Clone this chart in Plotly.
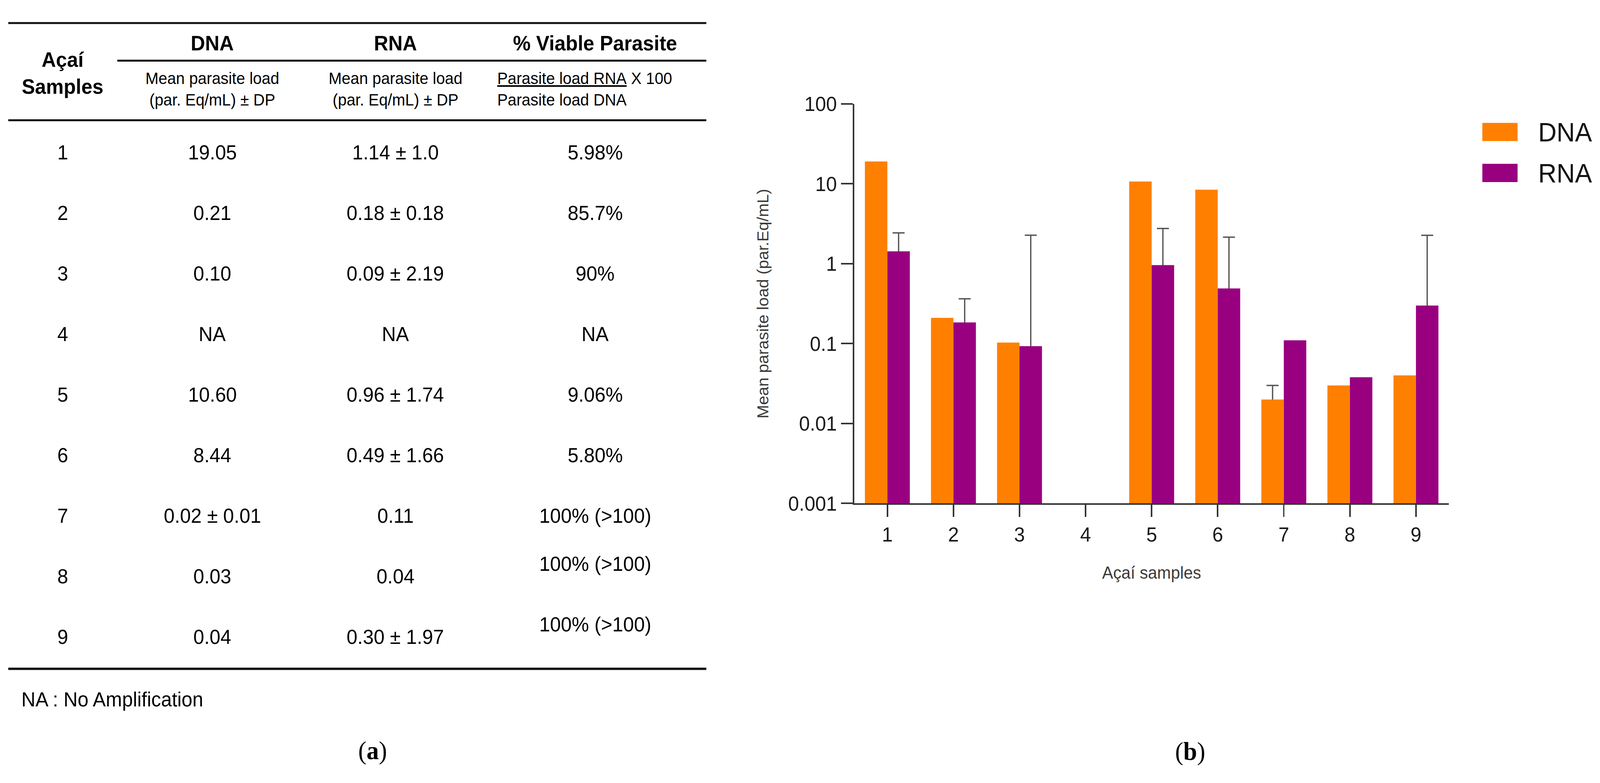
import plotly.graph_objects as go

W, H = 4270, 2004

# ---------------- data ----------------
samples = [1, 2, 3, 4, 5, 6, 7, 8, 9]
sample_labels = ["1", "2", "3", "4", "5", "6", "7", "8", "9"]

# chart values; sample 4 = no amplification
dna_load = [19.05, 0.21, 0.103, None, 10.7, 8.44, 0.020, 0.030, 0.040]
dna_sd = [None, None, None, None, None, None, 0.01, None, None]
rna_load = [1.43, 0.184, 0.093, None, 0.96, 0.49, 0.11, 0.038, 0.30]
rna_sd = [1.0, 0.18, 2.18, None, 1.8, 1.66, None, None, 1.97]

y_tickvals = [0.001, 0.01, 0.1, 1, 10, 100]
y_ticktext = ["0.001", "0.01", "0.1", "1", "10", "100"]

# table values (panel a)
table_samples = ["1", "2", "3", "4", "5", "6", "7", "8", "9"]
table_dna = ["19.05", "0.21", "0.10", "NA", "10.60", "8.44", "0.02 ± 0.01", "0.03", "0.04"]
table_rna = ["1.14 ± 1.0", "0.18 ± 0.18", "0.09 ± 2.19", "NA", "0.96 ± 1.74",
             "0.49 ± 1.66", "0.11", "0.04", "0.30 ± 1.97"]
table_viable = ["5.98%", "85.7%", "90%", "NA", "9.06%", "5.80%",
                "100% (>100)", "100% (>100)", "100% (>100)"]

ORANGE = "#FF8000"
PURPLE = "#990080"
SANS = "Liberation Sans, Arial, sans-serif"
SERIF = "Liberation Serif, Times New Roman, serif"


def px(x):
    return x / W


def py(y):
    return 1 - y / H


fig = go.Figure()

# error bars on transparent bars (drawn first, then covered by the real bars);
# the lower arm reaches zero (off the log scale) so no bottom cap is drawn
for load, sd, grp in [(dna_load, dna_sd, "dna"), (rna_load, rna_sd, "rna")]:
    idx = [i for i in range(len(samples)) if sd[i] is not None and load[i] is not None]
    fig.add_trace(go.Bar(
        x=[samples[i] for i in idx], y=[load[i] for i in idx],
        offsetgroup=grp, showlegend=False, hoverinfo="skip",
        marker=dict(color="rgba(0,0,0,0)", line=dict(width=0)),
        error_y=dict(type="data", symmetric=False,
                     array=[sd[i] for i in idx],
                     arrayminus=[load[i] for i in idx],
                     color="#555555", thickness=3.5, width=16),
    ))

fig.add_trace(go.Bar(x=samples, y=dna_load, name="DNA", offsetgroup="dna",
                     marker=dict(color=ORANGE, line=dict(width=0)), showlegend=False))
fig.add_trace(go.Bar(x=samples, y=rna_load, name="RNA", offsetgroup="rna",
                     marker=dict(color=PURPLE, line=dict(width=0)), showlegend=False))

x0, x1 = 2280, 3867
y_top, y_bot = 244, 1297

fig.update_layout(
    width=W, height=H,
    margin=dict(l=0, r=0, t=0, b=0),
    paper_bgcolor="white", plot_bgcolor="white",
    barmode="group", bargap=0.32, bargroupgap=0,
    showlegend=False,
    font=dict(family=SANS, color="#111111"),
    xaxis=dict(
        domain=[px(x0), px(x1)], range=[0.5, 9.5],
        tickmode="array", tickvals=samples, ticktext=sample_labels,
        showline=True, linecolor="#333333", linewidth=4,
        ticks="outside", ticklen=31, tickwidth=3.5, tickcolor="#333333",
        tickfont=dict(size=52, color="#1a1a1a", family=SANS),
        showgrid=False, zeroline=False,
        title=dict(text="Açaí samples", font=dict(size=44, color="#3a3a3a", family=SANS),
                   standoff=55),
    ),
    yaxis=dict(
        domain=[py(y_bot), py(y_top)], type="log", range=[-3, 2],
        tickmode="array", tickvals=y_tickvals, ticktext=y_ticktext,
        showline=True, linecolor="#333333", linewidth=4,
        ticks="outside", ticklen=32, tickwidth=3.5, tickcolor="#333333",
        tickfont=dict(size=52, color="#1a1a1a", family=SANS),
        showgrid=False, zeroline=False,
        title=dict(text="Mean parasite load (par.Eq/mL)",
                   font=dict(size=42, color="#3a3a3a", family=SANS), standoff=40),
    ),
)

shapes = []
ann = []

# ---- legend for panel b ----
legend_items = [("DNA", ORANGE), ("RNA", PURPLE)]
leg_y = [318, 426]
for (lab, col), yc in zip(legend_items, leg_y):
    shapes.append(dict(type="rect", xref="paper", yref="paper",
                       x0=px(3956), x1=px(4050), y0=py(yc - 24), y1=py(yc + 24),
                       fillcolor=col, line=dict(width=0)))
    ann.append(dict(text=lab, x=px(4103), y=py(yc), xref="paper", yref="paper",
                    xanchor="left", yanchor="middle", showarrow=False,
                    font=dict(size=68, color="#111111", family=SANS)))

# ---- table (panel a) ----
rule_x0, rule_x1 = 22, 1885
for (xa, yy, wd) in [(rule_x0, 31, 5), (313, 130, 5), (rule_x0, 287, 5), (rule_x0, 1733, 6)]:
    shapes.append(dict(type="line", xref="paper", yref="paper",
                       x0=px(xa), x1=px(rule_x1), y0=py(yy), y1=py(yy),
                       line=dict(color="#111111", width=wd)))

col_x = [167, 567, 1055, 1588]
HDR = 53
SUB = 42
BODY = 52


def text_ann(t, x, y, size, xanchor="center", align="center", family=SANS):
    return dict(text=t, x=px(x), y=py(y), xref="paper", yref="paper",
                xanchor=xanchor, yanchor="middle", align=align, showarrow=False,
                font=dict(size=size, color="#000000", family=family))


ann.append(text_ann("<b>Açaí<br>Samples</b>", col_x[0], 163, HDR))
ann.append(text_ann("<b>DNA</b>", col_x[1], 84, HDR))
ann.append(text_ann("<b>RNA</b>", col_x[2], 84, HDR))
ann.append(text_ann("<b>% Viable Parasite</b>", col_x[3], 84, HDR))
ann.append(text_ann("Mean parasite load<br>(par. Eq/mL) ± DP", col_x[1], 205, SUB))
ann.append(text_ann("Mean parasite load<br>(par. Eq/mL) ± DP", col_x[2], 205, SUB))
ann.append(text_ann("<u>Parasite load RNA</u> X 100<br>Parasite load DNA", 1325, 205, SUB,
                    xanchor="left", align="left"))

row_y0, row_dy = 372, 159.6
viable_shift = [0, 0, 0, 0, 0, 0, 0, -33, -33]
for i in range(len(table_samples)):
    yy = row_y0 + i * row_dy
    ann.append(text_ann(table_samples[i], col_x[0], yy, BODY))
    ann.append(text_ann(table_dna[i], col_x[1], yy, BODY))
    ann.append(text_ann(table_rna[i], col_x[2], yy, BODY))
    ann.append(text_ann(table_viable[i], col_x[3], yy + viable_shift[i], BODY))

ann.append(text_ann("NA : No Amplification", 55, 1813, BODY, xanchor="left", align="left"))

# panel captions
ann.append(text_ann("(<b>a</b>)", 994, 1948, 66, family=SERIF))
ann.append(text_ann("(<b>b</b>)", 3176, 1950, 66, family=SERIF))

fig.update_layout(shapes=shapes, annotations=ann)

# make the fixed-size figure fit the browser viewport exactly
post = """
document.documentElement.style.margin='0';
document.body.style.margin='0';
document.body.style.overflow='hidden';
document.documentElement.style.overflow='hidden';
var gd = document.getElementById('{plot_id}');
var sx = window.innerWidth / %d, sy = window.innerHeight / %d;
if (Math.abs(sx - 1) > 0.002 || Math.abs(sy - 1) > 0.002) {
  gd.style.transformOrigin = '0 0';
  gd.style.transform = 'scale(' + sx + ',' + sy + ')';
}
""" % (W, H)

fig.write_html("out.html", post_script=post, config={"displayModeBar": False})
